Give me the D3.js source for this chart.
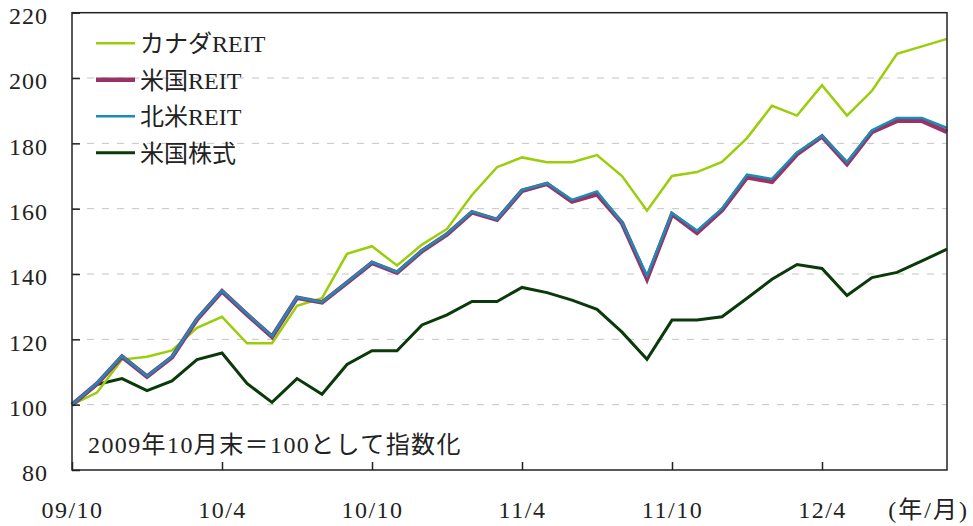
<!DOCTYPE html>
<html>
<head>
<meta charset="utf-8">
<script src="https://cdn.jsdelivr.net/npm/d3@7"></script>
<style>
  body { margin: 0; background: #fff; }
  svg text { font-family: "Liberation Serif", "Noto Sans CJK JP", serif; fill: #222; }
</style>
</head>
<body>
<div id="chart"></div>
<script>
const id_ref = "#chart"

// month labels (2009/10 .. 2012/9), only every 6th gets a tick label
const months = d3.range(36).map(i => {
  const y = 2009 + Math.floor((9 + i) / 12)
  const m = (9 + i) % 12 + 1
  return String(y).slice(2) + "/" + m
})
const tickLabels = ["09/10", "10/4", "10/10", "11/4", "11/10", "12/4"]
const yTicks = [80, 100, 120, 140, 160, 180, 200, 220]

const canadaReit = [100, 103.7, 113.8, 114.7, 116.6, 123.5, 126.9, 118.8, 118.8, 130.3, 132.6, 146.2,
  148.5, 142.6, 149.0, 153.8, 164.2, 172.7, 175.7, 174.2, 174.2, 176.4, 170.0, 159.4,
  170.0, 171.2, 174.3, 181.6, 191.5, 188.5, 197.8, 188.5, 196.1, 207.4, 209.7, 212.0]
const usReit = [100, 106.4, 114.7, 108.6, 114.5, 126.1, 134.7, 127.6, 120.8, 132.7, 131.3, 137.3,
  143.4, 140.4, 147.0, 152.1, 158.9, 156.6, 165.5, 167.6, 162.2, 164.4, 155.6, 138.5,
  158.3, 152.6, 159.5, 169.6, 168.2, 176.7, 182.1, 173.7, 183.5, 186.9, 186.9, 183.5]
const naReit = [100, 106.6, 114.9, 108.7, 114.7, 126.3, 134.9, 127.8, 121.0, 132.9, 131.4, 137.5,
  143.6, 140.6, 147.2, 152.3, 159.1, 156.8, 165.7, 167.8, 162.7, 165.3, 155.8, 139.5,
  158.7, 153.3, 160.0, 170.4, 169.1, 177.2, 182.3, 174.3, 184.0, 187.8, 187.8, 184.7]
const usStocks = [100, 106.2, 108.0, 104.3, 107.3, 113.8, 115.8, 106.5, 100.7, 108.0, 103.2, 112.3,
  116.5, 116.5, 124.4, 127.5, 131.6, 131.6, 135.9, 134.3, 132.0, 129.2, 122.2, 113.9,
  125.9, 125.9, 126.9, 132.6, 138.4, 142.9, 141.7, 133.4, 138.9, 140.5, 144.0, 147.6]

const seriesNames = ["カナダREIT", "米国REIT", "北米REIT", "米国株式"]

// styles per series (same order as the names)
const series = [
  {name: seriesNames[0], values: canadaReit, color: "#9acd0a", width: 2.5},
  {name: seriesNames[1], values: usReit, color: "#993366", width: 4.5},
  {name: seriesNames[2], values: naReit, color: "#1a8cb8", width: 2.5},
  {name: seriesNames[3], values: usStocks, color: "#0a3a0a", width: 3}
]

const margin = {top: 12.7, right: 26, bottom: 56, left: 72},
    width = 973 - margin.left - margin.right,
    height = 526 - margin.top - margin.bottom;

const svg = d3.select(id_ref)
  .append("svg")
  .attr("width", 973)
  .attr("height", 526)
  .append("g")
  .attr("transform", `translate(${margin.left}, ${margin.top})`);

const x = d3.scalePoint()
  .domain(months)
  .range([0, width]);

const y = d3.scaleLinear()
  .domain([80, 220])
  .range([height, 0]);

// dashed gridlines
svg.append("g")
  .selectAll("line")
  .data(yTicks.filter(d => d > 80 && d < 220))
  .join("line")
    .attr("x1", 0)
    .attr("x2", width)
    .attr("y1", d => y(d))
    .attr("y2", d => y(d))
    .style("stroke", "#c4c4c4")
    .style("stroke-width", 1)
    .style("stroke-dasharray", "7,8");

// lines (pink under blue so it shows as an edge)
const line = d3.line()
  .x((d, i) => x(months[i]))
  .y(d => y(d));

svg.append("g")
  .selectAll("path")
  .data([series[3], series[0], series[1], series[2]])
  .join("path")
    .attr("d", d => line(d.values))
    .attr("fill", "none")
    .attr("stroke", d => d.color)
    .attr("stroke-width", d => d.width)
    .attr("stroke-linejoin", "miter");

// Y axis (ticks point inward)
const yAxis = svg.append("g")
  .call(d3.axisLeft(y).tickValues(yTicks).tickSize(-8).tickPadding(24));
yAxis.select(".domain").remove();
yAxis.selectAll("line").attr("stroke", "#222").attr("stroke-width", 1.5);
yAxis.selectAll("text")
  .style("font-size", "24px")
  .style("letter-spacing", "1px")
  .attr("dy", "0.45em")
  .attr("fill", "#222");

// X axis
const xAxis = svg.append("g")
  .attr("transform", "translate(0," + height + ")")
  .call(d3.axisBottom(x).tickValues(tickLabels).tickSize(-8).tickPadding(0));
xAxis.select(".domain").remove();
xAxis.selectAll("line").attr("stroke", "#222").attr("stroke-width", 1.5);
xAxis.selectAll("text")
  .style("font-size", "24px")
  .style("letter-spacing", "1.5px")
  .attr("y", 48)
  .attr("dy", 0)
  .attr("fill", "#222");

// plot frame
svg.append("rect")
  .attr("x", 0)
  .attr("y", 0)
  .attr("width", width)
  .attr("height", height)
  .attr("fill", "none")
  .attr("stroke", "#222")
  .attr("stroke-width", 1.5);

// unit label
svg.append("text")
  .attr("x", 969 - margin.left)
  .attr("y", height + 48)
  .attr("text-anchor", "end")
  .style("font-size", "24px")
  .style("letter-spacing", "2px")
  .text("(年/月)");

// note
svg.append("text")
  .attr("x", 88 - margin.left)
  .attr("y", 453 - margin.top)
  .style("font-size", "24px")
  .style("letter-spacing", "1.4px")
  .text("2009年10月末＝100として指数化");

// legend
const legend = svg.append("g")
  .selectAll("g")
  .data(series)
  .join("g")
    .attr("transform", (d, i) => `translate(${96 - margin.left}, ${43.3 + i * 36.5 - margin.top})`);

legend.append("line")
  .attr("x1", 0)
  .attr("x2", 39)
  .attr("stroke", d => d.color)
  .attr("stroke-width", d => d.width);

legend.append("text")
  .attr("x", 44)
  .attr("y", 9)
  .style("font-size", "24px")
  .text(d => d.name);
</script>
</body>
</html>
